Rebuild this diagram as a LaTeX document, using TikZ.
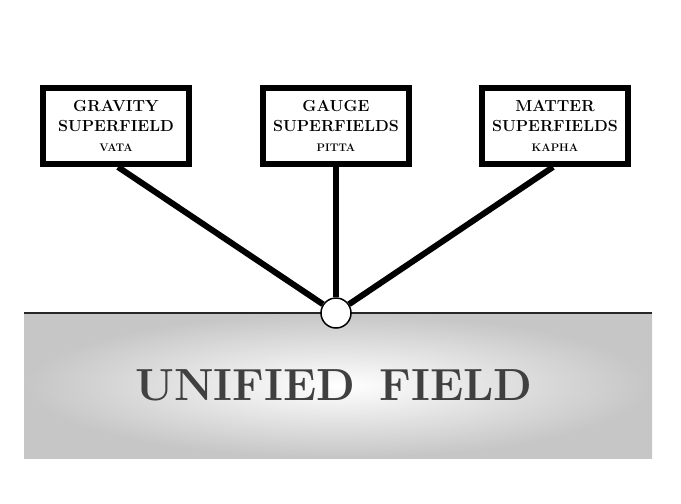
\documentclass[tikz,border=0pt]{standalone}
\usepackage{tikz}
\usetikzlibrary{positioning}
\usetikzlibrary{backgrounds}
\begin{document}
\begin{tikzpicture}
  [
    x=1pt, y=-1pt,
    field/.style={
       draw=black,
       line width=6pt,
       fill=white,
       minimum width=146pt,
       minimum height=76pt,
       align=center,
       font=\fontsize{16}{20}\selectfont\bfseries
    },
    stem/.style={
       draw=black,
       line width=6pt
    }
  ]
  \useasboundingbox (0,0) rectangle (681,504);
  \shade [outer color=gray!45, inner color=white] (24,313) rectangle (652,458);
  \draw [line width=1.5pt, gray!30!black] (24,313) -- (652,313);
  \node (uf) at (334,385) [text=black!75, font=\fontsize{45}{50}\selectfont\bfseries]
        {UNIFIED\, FIELD};

  \node (grav)   at (116,126) [field] {GRAVITY\\SUPERFIELD\\{\fontsize{11}{12}\selectfont VATA}};
  \node (gauge)  at (336,126) [field] {GAUGE\\SUPERFIELDS\\{\fontsize{11}{12}\selectfont PITTA}};
  \node (matter) at (555,126) [field] {MATTER\\SUPERFIELDS\\{\fontsize{11}{12}\selectfont KAPHA}};

  \node (hub) at (336,313) [circle, draw=black, line width=1.5pt, fill=white, minimum size=30pt, inner sep=0pt] {};

  \begin{scope}[on background layer]
    \draw [stem] ([xshift=2pt]grav.south) -- (hub);
    \draw [stem] (gauge) -- (hub);
    \draw [stem] ([xshift=-2pt]matter.south) -- (hub);
  \end{scope}
\end{tikzpicture}
\end{document}
